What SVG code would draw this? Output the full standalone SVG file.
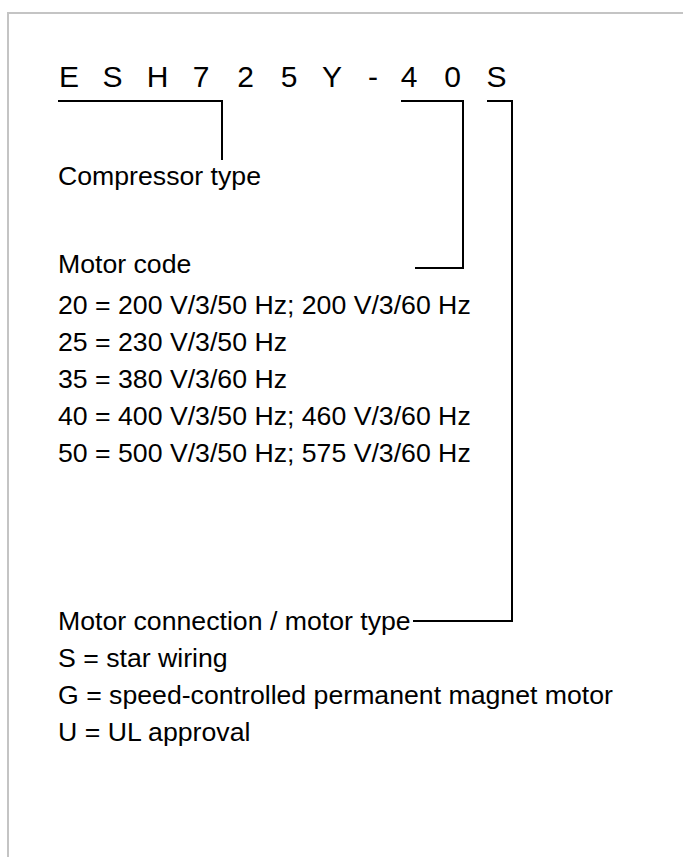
<svg xmlns="http://www.w3.org/2000/svg" width="683" height="857" viewBox="0 0 683 857">
<style>
.code{font-family:"Liberation Sans",Arial,sans-serif;font-size:30px;fill:#000;text-anchor:middle}
.lbl{font-family:"Liberation Sans",Arial,sans-serif;font-size:26.67px;fill:#000}
.ln{fill:none;stroke:#000;stroke-width:2}
.frame{fill:none;stroke:#c4c4c4;stroke-width:2}
</style>
<rect width="683" height="857" fill="#fff"/>
<path class="frame" d="M8,857 V13 H683"/>
<g id="code">
<text class="code" x="69" y="86.5">E</text>
<text class="code" x="112.5" y="86.5">S</text>
<text class="code" x="157.5" y="86.5">H</text>
<text class="code" x="201" y="86.5">7</text>
<text class="code" x="245.5" y="86.5">2</text>
<text class="code" x="289" y="86.5">5</text>
<text class="code" x="332" y="86.5">Y</text>
<text class="code" x="373" y="86.5">-</text>
<text class="code" x="409" y="86.5">4</text>
<text class="code" x="452.5" y="86.5">0</text>
<text class="code" x="496.5" y="86.5">S</text>
</g>
<g id="connectors">
<path class="ln" d="M58,101 H222 V160"/>
<path class="ln" d="M401,101 H463 V268 H415"/>
<path class="ln" d="M487,101 H512 V621 H413"/>
</g>
<g id="compressor-type">
<text class="lbl" x="58" y="185">Compressor type</text>
</g>
<g id="motor-code">
<text class="lbl" x="58" y="273">Motor code</text>
<text class="lbl" x="58" y="314">20 = 200 V/3/50 Hz; 200 V/3/60 Hz</text>
<text class="lbl" x="58" y="351">25 = 230 V/3/50 Hz</text>
<text class="lbl" x="58" y="388">35 = 380 V/3/60 Hz</text>
<text class="lbl" x="58" y="425">40 = 400 V/3/50 Hz; 460 V/3/60 Hz</text>
<text class="lbl" x="58" y="462">50 = 500 V/3/50 Hz; 575 V/3/60 Hz</text>
</g>
<g id="motor-connection">
<text class="lbl" x="58" y="630">Motor connection / motor type</text>
<text class="lbl" x="58" y="667">S = star wiring</text>
<text class="lbl" x="58" y="704">G = speed-controlled permanent magnet motor</text>
<text class="lbl" x="58" y="741">U = UL approval</text>
</g>
</svg>
